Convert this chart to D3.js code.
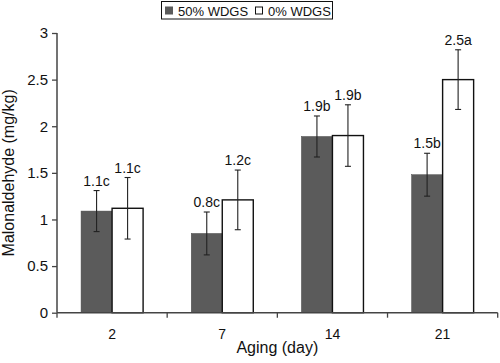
<!DOCTYPE html>
<html>
<head>
<meta charset="utf-8">
<script src="https://cdn.jsdelivr.net/npm/d3@7"></script>
<style>
html,body{margin:0;padding:0;background:#fff;}
svg{display:block;font-family:"Liberation Sans",Arial,Helvetica,sans-serif;}
</style>
</head>
<body>
<svg id="chart" width="500" height="363"></svg>
<script>
const days = ["2", "7", "14", "21"];
const seriesNames = ["50% WDGS", "0% WDGS"];
const wdgs50 = [1.09, 0.85, 1.89, 1.48];
const wdgs50Err = [0.22, 0.23, 0.22, 0.23];
const wdgs0 = [1.12, 1.21, 1.90, 2.50];
const wdgs0Err = [0.33, 0.32, 0.33, 0.32];
const labels50 = ["1.1c", "0.8c", "1.9b", "1.5b"];
const labels0 = ["1.1c", "1.2c", "1.9b", "2.5a"];
const yTicks = [0, 0.5, 1, 1.5, 2, 2.5, 3];

const colors = ["#5b5b5b", "#ffffff"];
const svg = d3.select("#chart");
const mLeft = 57, mRight = 497.7, mTop = 33, mBottom = 312.7;

const x0 = d3.scaleBand().domain(days).range([mLeft, mRight]).paddingInner(0.437).paddingOuter(0.2185);
const x1 = d3.scaleBand().domain(seriesNames).range([0, x0.bandwidth()]);
const y = d3.scaleLinear().domain([0, 3]).range([mBottom, mTop]);

const rows = days.map((d, i) => ({
  day: d,
  bars: [
    {s: seriesNames[0], v: wdgs50[i], e: wdgs50Err[i], lab: labels50[i], c: colors[0]},
    {s: seriesNames[1], v: wdgs0[i], e: wdgs0Err[i], lab: labels0[i], c: colors[1]}
  ]
}));

const g = svg.append("g").selectAll("g").data(rows).join("g")
  .attr("transform", d => `translate(${x0(d.day)},0)`);

g.selectAll("rect").data(d => d.bars).join("rect")
  .attr("x", d => x1(d.s))
  .attr("y", d => y(d.v))
  .attr("width", x1.bandwidth())
  .attr("height", d => y(0) - y(d.v))
  .attr("fill", d => d.c)
  .attr("stroke", (d, i) => i === 0 ? "#4a4a4a" : "#111")
  .attr("stroke-width", (d, i) => i === 0 ? 0.5 : 1.4);

// error bars
const eb = g.selectAll("g.err").data(d => d.bars).join("g").attr("class", "err");
const cx = d => x1(d.s) + x1.bandwidth() / 2;
eb.append("line")
  .attr("x1", cx).attr("x2", cx)
  .attr("y1", d => y(d.v + d.e)).attr("y2", d => y(d.v - d.e))
  .attr("stroke", "#222").attr("stroke-width", 1.1);
eb.append("line")
  .attr("x1", d => cx(d) - 3).attr("x2", d => cx(d) + 3)
  .attr("y1", d => y(d.v + d.e)).attr("y2", d => y(d.v + d.e))
  .attr("stroke", "#222").attr("stroke-width", 1.1);
eb.append("line")
  .attr("x1", d => cx(d) - 3).attr("x2", d => cx(d) + 3)
  .attr("y1", d => y(d.v - d.e)).attr("y2", d => y(d.v - d.e))
  .attr("stroke", "#222").attr("stroke-width", 1.1);
eb.append("text")
  .attr("x", cx)
  .attr("y", d => y(d.v + d.e) - 5)
  .attr("text-anchor", "middle")
  .attr("font-size", 14)
  .attr("fill", "#111")
  .text(d => d.lab);

// axes
const axisColor = "#444";
const yAxis = svg.append("g").attr("transform", `translate(${mLeft},0)`)
  .call(d3.axisLeft(y).tickValues(yTicks).tickFormat(d3.format("")).tickSize(5).tickPadding(4));
yAxis.select(".domain").attr("stroke", axisColor).attr("stroke-width", 1.5).attr("d", `M0,${mBottom}V${mTop}`);
yAxis.selectAll(".tick line").attr("stroke", axisColor).attr("stroke-width", 1.3);
yAxis.selectAll(".tick text").attr("font-size", 15).attr("fill", "#111").attr("font-family", null);

const xAxis = svg.append("g").attr("transform", `translate(0,${mBottom})`)
  .call(d3.axisBottom(x0).tickSize(0).tickPadding(16));
xAxis.select(".domain").attr("stroke", axisColor).attr("stroke-width", 1.5).attr("d", `M${mLeft},0H${mRight}`);
xAxis.selectAll(".tick text").attr("font-size", 14).attr("fill", "#111").attr("font-family", null);
// boundary tick marks
const bounds = days.map(d => x0(d) - x0.step() * x0.paddingOuter()).concat([mRight]);
svg.append("g").selectAll("line").data(bounds).join("line")
  .attr("x1", d => d).attr("x2", d => d)
  .attr("y1", mBottom).attr("y2", mBottom + 5)
  .attr("stroke", axisColor).attr("stroke-width", 1.3);

// axis titles
svg.append("text")
  .attr("x", (mLeft + mRight) / 2).attr("y", 353)
  .attr("text-anchor", "middle").attr("font-size", 16).attr("fill", "#111")
  .text("Aging (day)");
svg.append("text")
  .attr("transform", `translate(14,${(mTop + mBottom) / 2}) rotate(-90)`)
  .attr("text-anchor", "middle").attr("font-size", 16).attr("fill", "#111")
  .text("Malonaldehyde (mg/kg)");

// legend
const lg = svg.append("g");
lg.append("rect").attr("x", 161.5).attr("y", 1.5).attr("width", 171).attr("height", 17.5)
  .attr("fill", "#fff").attr("stroke", "#111").attr("stroke-width", 1);
const legendX = [165.5, 255.5];
seriesNames.forEach((s, i) => {
  lg.append("rect").attr("x", legendX[i]).attr("y", 7).attr("width", 7).attr("height", 7)
    .attr("fill", colors[i]).attr("stroke", i === 0 ? "#5b5b5b" : "#111").attr("stroke-width", 1);
  lg.append("text").attr("x", legendX[i] + 12.5).attr("y", 15.5)
    .attr("font-size", 13).attr("fill", "#111").text(s);
});
</script>
</body>
</html>
